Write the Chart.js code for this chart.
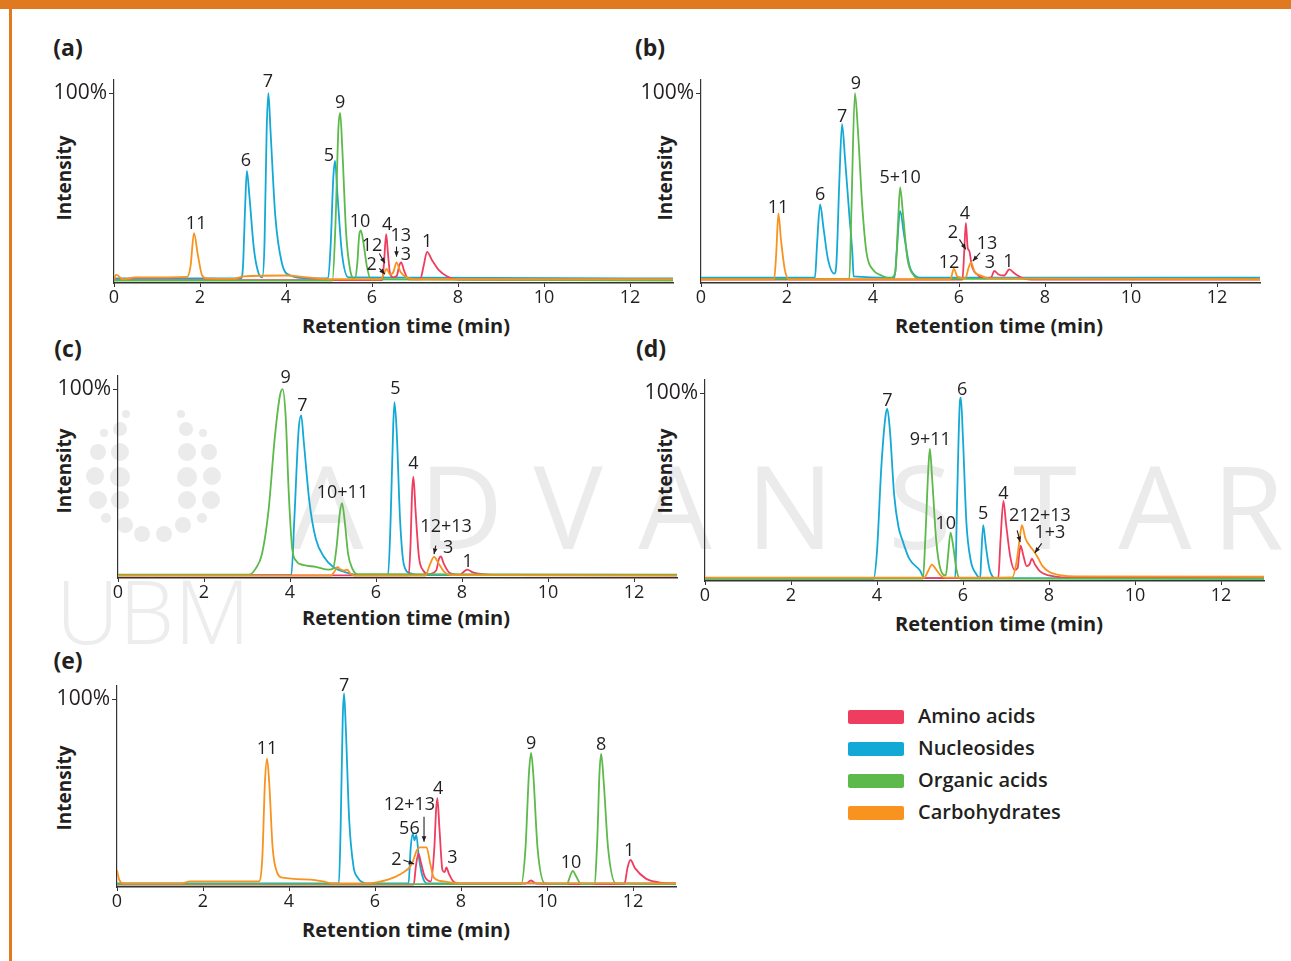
<!DOCTYPE html>
<html>
<head>
<meta charset="utf-8">
<script src="https://cdn.jsdelivr.net/npm/chart.js@4.4.1/dist/chart.umd.min.js"></script>
<style>
  body { margin: 0; background: #fff; font-family: "Open Sans", "Noto Sans", sans-serif; color: #231f20; }
  #page { position: relative; width: 1291px; height: 961px; overflow: hidden; }
  .abs { position: absolute; }
  .txt { position: absolute; transform: translate(-50%, -50%); white-space: nowrap; }
  .wm { position: absolute; transform: translate(-50%, 0); color: #ebebeb; font-weight: 400; font-size: 116px; line-height: 1; }
  .dot { position: absolute; border-radius: 50%; background: #ebebeb; }
  canvas { position: absolute; }
  .panel { font-weight: bold; font-size: 23px; }
  .xtitle { font-weight: bold; font-size: 20px; }
  .ytitle { font-weight: bold; font-size: 19px; transform: translate(-50%, -50%) rotate(-90deg); }
  .key { position: absolute; width: 56px; height: 14px; border-radius: 2px; }
  .keytxt { position: absolute; font-weight: 600; font-size: 20px; line-height: 1; }
</style>
</head>
<body>
<div id="page">
  <div class="abs" style="left:0;top:0;width:1291px;height:9px;background:#e07a20"></div>
  <div class="abs" style="left:9px;top:0;width:3px;height:961px;background:#e07a20"></div>

  <!-- watermark -->
  <div id="logo"></div>
  <div class="wm" style="left:327px;top:446px">A</div>
  <div class="wm" style="left:461px;top:446px">D</div>
  <div class="wm" style="left:568px;top:446px">V</div>
  <div class="wm" style="left:675px;top:446px">A</div>
  <div class="wm" style="left:790px;top:446px">N</div>
  <div class="wm" style="left:920px;top:446px">S</div>
  <div class="wm" style="left:1045px;top:446px">T</div>
  <div class="wm" style="left:1155px;top:446px">A</div>
  <div class="wm" style="left:1248px;top:446px">R</div>
  <div class="wm" style="left:153px;top:566px;font-size:88px;font-weight:300;color:#ededed">UBM</div>

  <div class="txt panel" style="left:68px;top:47px">(a)</div>
  <div class="txt panel" style="left:650px;top:47px">(b)</div>
  <div class="txt panel" style="left:68px;top:348px">(c)</div>
  <div class="txt panel" style="left:651px;top:348px">(d)</div>
  <div class="txt panel" style="left:68px;top:660px">(e)</div>

  <div class="txt ytitle" style="left:64px;top:178px">Intensity</div>
  <div class="txt ytitle" style="left:665px;top:178px">Intensity</div>
  <div class="txt ytitle" style="left:64px;top:471px">Intensity</div>
  <div class="txt ytitle" style="left:665px;top:471px">Intensity</div>
  <div class="txt ytitle" style="left:64px;top:788px">Intensity</div>

  <div class="txt xtitle" style="left:406px;top:325px">Retention time (min)</div>
  <div class="txt xtitle" style="left:999px;top:325px">Retention time (min)</div>
  <div class="txt xtitle" style="left:406px;top:617px">Retention time (min)</div>
  <div class="txt xtitle" style="left:999px;top:623px">Retention time (min)</div>
  <div class="txt xtitle" style="left:406px;top:929px">Retention time (min)</div>

  <div id="legend"></div>

  <canvas id="ca"></canvas>
  <canvas id="cb"></canvas>
  <canvas id="cc"></canvas>
  <canvas id="cd"></canvas>
  <canvas id="ce"></canvas>
</div>

<script>
// compound classes and colours
const classes = ['Amino acids', 'Nucleosides', 'Organic acids', 'Carbohydrates'];
const colors = ['#ee3d5e', '#13a9d6', '#5cb94a', '#f7931e'];

const xTicks = [0, 2, 4, 6, 8, 10, 12];
const yTicks = [100];

// traces as [time (min), intensity %]
// (a)
const aAmino = [[0,0.5],[6.24,0.5],[6.28,10],[6.33,25],[6.37,15],[6.42,4],[6.5,2],[6.58,3],[6.63,8],[6.68,10],[6.74,6],[6.85,1],[7.12,1],[7.2,8],[7.28,15.6],[7.4,11],[7.55,6],[7.75,2.5],[8.0,0.8],[13,0.5]];
const aNuc = [[0,1.5],[2.95,1.5],[3.0,8],[3.05,40],[3.09,58.7],[3.15,45],[3.25,18],[3.35,5],[3.45,2],[3.5,20],[3.55,80],[3.59,100],[3.64,80],[3.75,35],[3.9,10],[4.1,3],[4.5,1.5],[4.98,1.5],[5.04,20],[5.1,55],[5.14,64],[5.2,45],[5.3,15],[5.45,2],[13,1.5]];
const aOrg = [[0,0.3],[5.08,0.3],[5.15,30],[5.22,82],[5.26,89.5],[5.31,70],[5.4,25],[5.5,5],[5.6,1],[5.66,10],[5.7,24],[5.74,27],[5.79,22],[5.88,8],[5.97,1],[13,0.3]];
const aCarb = [[0,1],[0.05,3.5],[0.2,1],[0.5,2],[1.7,2.3],[1.78,8],[1.86,25.5],[1.95,14],[2.05,3],[2.15,1.5],[2.8,1.2],[3.0,2.5],[4.0,3],[4.5,2],[5.0,1],[6.2,1],[6.28,4],[6.34,6.5],[6.42,3.5],[6.5,5],[6.57,10],[6.66,5],[6.8,2],[7.0,1],[13,1]];
const aLabels = [[1.91,30.3,'11'],[3.07,63.8,'6'],[3.58,105.9,'7'],[5.0,66.5,'5'],[5.26,94.7,'9'],[5.72,31.6,'10'],[6.35,29.8,'4'],[6.0,18.8,'12'],[6.67,24,'13'],[6.79,13.8,'3'],[5.99,8.5,'2'],[7.28,20.9,'1']];
const aArrows = [[6.17,14.7,6.30,9.5],[6.17,6.8,6.30,3.7],[6.57,18.4,6.57,13.0]];

// (b)
const bAmino = [[0,0.8],[6.08,0.8],[6.12,15],[6.16,31],[6.2,18],[6.24,16],[6.3,8],[6.45,3],[6.6,1.5],[6.75,2],[6.82,5.5],[6.92,3.5],[7.05,3],[7.17,6.2],[7.3,4],[7.5,1.5],[7.7,0.8],[13,0.8]];
const bNuc = [[0,1.8],[2.65,1.8],[2.7,20],[2.77,40.8],[2.85,28],[2.95,12],[3.1,4],[3.15,10],[3.22,55],[3.28,83.5],[3.35,65],[3.45,35],[3.52,15],[3.55,2.5],[4.5,1.8],[4.55,15],[4.63,37.4],[4.72,25],[4.85,8],[5.0,2.5],[5.1,1.8],[13,1.8]];
const bOrg = [[0,1.2],[3.45,1.2],[3.5,40],[3.58,100],[3.65,80],[3.75,40],[3.85,15],[4.0,6],[4.2,3],[4.4,1.5],[4.52,5],[4.58,30],[4.63,49.8],[4.7,35],[4.8,12],[4.95,3],[5.1,1.2],[13,1.2]];
const bCarb = [[0,1],[1.7,1],[1.75,15],[1.8,36],[1.86,22],[1.95,6],[2.05,1],[5.8,1],[5.88,6.7],[5.96,2.5],[6.15,1.5],[6.22,7],[6.28,10],[6.36,5],[6.5,3],[6.7,1.5],[13,1]];
const bLabels = [[1.79,38.8,'11'],[2.77,45.7,'6'],[3.28,87.2,'7'],[3.6,104.8,'9'],[4.63,54.8,'5+10'],[6.14,35.6,'4'],[5.86,25.8,'2'],[6.65,20,'13'],[5.77,9.5,'12'],[6.72,9.5,'3'],[7.15,10.2,'1']];
const bArrows = [[6.01,22.2,6.16,16.9],[6.49,15.1,6.32,10.6]];

// (c)
const cAmino = [[0,0.4],[6.76,0.4],[6.8,15],[6.84,45],[6.87,53],[6.92,35],[7.0,10],[7.1,3],[7.2,1],[7.4,3],[7.46,9],[7.51,10.5],[7.57,7],[7.7,2],[7.95,0.8],[8.05,2.5],[8.12,3.5],[8.25,2],[8.5,1],[9,0.5],[13,0.4]];
const cNuc = [[0,0.5],[4.03,0.5],[4.1,30],[4.2,78],[4.26,86],[4.32,72],[4.45,40],[4.6,20],[4.8,10],[5.0,5],[5.3,2],[5.6,0.5],[6.28,0.5],[6.34,30],[6.4,80],[6.43,93],[6.48,78],[6.56,30],[6.65,6],[6.8,1.5],[7.0,0.5],[13,0.5]];
const cOrg = [[0,0.8],[3.05,0.8],[3.2,4],[3.35,12],[3.5,35],[3.65,75],[3.77,97],[3.83,100],[3.9,85],[3.97,45],[4.05,15],[4.15,8],[4.3,6],[4.6,5],[4.9,3.5],[5.0,4],[5.08,15],[5.16,34],[5.21,39],[5.27,30],[5.35,12],[5.45,4],[5.57,1],[13,0.8]];
const cCarb = [[0,0.3],[4.95,0.3],[5.05,3],[5.1,5],[5.18,3.5],[5.25,3],[5.33,3.5],[5.4,1.5],[5.5,0.3],[7.15,0.3],[7.25,6],[7.35,10.3],[7.45,7],[7.6,2],[7.75,0.5],[13,0.3]];
const cLabels = [[3.9,106,'9'],[4.29,91,'7'],[5.22,44.7,'10+11'],[6.45,100,'5'],[6.87,60,'4'],[7.63,26.6,'12+13'],[7.68,15.1,'3'],[8.13,7.8,'1']];
const cArrows = [[7.39,16.3,7.35,11.8]];

// (d)
const dAmino = [[0,0.5],[6.82,0.5],[6.87,20],[6.94,42],[7.0,30],[7.1,12],[7.2,5],[7.27,6],[7.31,14],[7.34,18],[7.4,13],[7.48,7],[7.55,8],[7.6,11],[7.67,8],[7.8,4],[8.0,2],[8.3,1],[13,0.5]];
const dNuc = [[0,0.2],[3.92,0.2],[4.0,15],[4.1,60],[4.2,88],[4.24,91.5],[4.3,80],[4.4,45],[4.5,28],[4.59,21],[4.75,11],[5.0,4.6],[5.1,0.5],[5.82,0.5],[5.86,40],[5.92,92],[5.95,97.5],[6.0,75],[6.08,30],[6.18,10],[6.3,3],[6.4,0.5],[6.42,10],[6.47,29],[6.53,18],[6.62,5],[6.78,0.5],[13,0.2]];
const dOrg = [[0,0.3],[5.07,0.3],[5.12,20],[5.2,62],[5.23,70],[5.28,55],[5.38,20],[5.48,5],[5.6,2],[5.65,12],[5.71,25],[5.77,18],[5.85,5],[5.93,0.3],[13,0.3]];
const dCarb = [[0,0.8],[5.1,0.8],[5.18,4],[5.28,7.8],[5.38,5],[5.5,1.5],[5.6,0.8],[7.15,1],[7.25,10],[7.32,22],[7.37,29],[7.45,22],[7.55,18],[7.65,15],[7.73,12],[7.85,7],[8.0,4],[8.3,2],[8.6,1.5],[13,1.3]];
const dLabels = [[4.24,96,'7'],[5.24,74.6,'9+11'],[5.6,29.7,'10'],[5.98,101.8,'6'],[6.47,35.1,'5'],[6.94,46,'4'],[7.79,33.8,'212+13'],[8.02,24.6,'1+3']];
const dArrows = [[7.26,26.2,7.33,19.9],[7.83,19.2,7.67,14.1]];

// (e)
const eAmino = [[0,0.3],[6.9,0.3],[6.95,10],[7.01,17],[7.07,12],[7.15,5],[7.3,2],[7.38,20],[7.42,40],[7.45,46.7],[7.5,30],[7.57,8],[7.62,7],[7.66,9.5],[7.72,6],[7.82,2],[7.95,0.8],[9.5,0.8],[9.63,2.5],[9.75,0.8],[11.8,0.5],[11.87,9],[11.94,13.5],[12.05,9],[12.3,3.5],[12.6,1.5],[12.95,1],[13,1]];
const eNuc = [[0,1],[5.16,1],[5.2,30],[5.25,90],[5.28,103],[5.32,85],[5.4,35],[5.5,10],[5.6,4],[5.8,1],[6.78,1],[6.83,20],[6.88,27.8],[6.92,24],[6.96,27],[7.02,15],[7.1,5],[7.2,1],[13,1]];
const eOrg = [[0,0.5],[9.4,0.5],[9.5,20],[9.58,60],[9.63,71],[9.68,60],[9.78,20],[9.95,1],[10.46,0.5],[10.54,5],[10.6,7.7],[10.67,5],[10.8,0.5],[11.1,0.5],[11.17,25],[11.22,60],[11.26,70.5],[11.32,55],[11.42,20],[11.6,1],[13,0.5]];
const eCarb = [[0,8],[0.05,3],[0.15,1],[1.5,1],[1.7,2],[3.3,2],[3.38,15],[3.44,55],[3.49,68],[3.54,55],[3.62,20],[3.72,7],[3.85,4],[4.5,3],[4.8,2],[5.0,1],[5.8,1],[6.3,3],[6.6,6],[6.85,11],[6.98,19],[7.05,20.3],[7.2,20.3],[7.28,12],[7.37,4],[7.6,2],[8,1],[13,1]];
const eLabels = [[3.49,73.2,'11'],[5.28,107,'7'],[6.8,43.1,'12+13'],[6.8,30.5,'56'],[7.47,51.6,'4'],[6.5,13.8,'2'],[7.8,14.4,'3'],[9.63,76,'9'],[10.56,11.8,'10'],[11.26,75.4,'8'],[11.91,18.3,'1']];
const eArrows = [[7.14,36.8,7.14,23.3],[6.66,13.5,6.91,11.3]];

// watermark logo dots [x, y, r]
const logoDots = [[126,414,4],[104,433,4],[120,429,7],[98,452,8],[120,452,9],[95,476,9],[120,477,10],[98,500,9],[120,500,9],[106,518,5],[125,525,8],[142,534,8],[164,534,8],[183,525,8],[202,518,5],[187,500,9],[211,500,9],[187,477,10],[212,476,9],[187,452,9],[209,452,8],[186,429,7],[203,433,4],[181,414,4]];
const logo = document.getElementById('logo');
logoDots.forEach(([x, y, r]) => {
  const d = document.createElement('div');
  d.className = 'dot';
  d.style.cssText = `left:${x - r}px;top:${y - r}px;width:${2 * r}px;height:${2 * r}px`;
  logo.appendChild(d);
});

// legend
const legendTop = [717, 749, 781, 813];
const legend = document.getElementById('legend');
classes.forEach((c, i) => {
  const k = document.createElement('div');
  k.className = 'key';
  k.style.cssText = `left:848px;top:${legendTop[i] - 7}px;background:${colors[i]}`;
  legend.appendChild(k);
  const t = document.createElement('div');
  t.className = 'keytxt';
  t.style.cssText = `left:918px;top:${legendTop[i] - 11}px`;
  t.textContent = c;
  legend.appendChild(t);
});

// peak numbers and arrows
const peakText = {
  id: 'peakText',
  afterDatasetsDraw(chart, args, opts) {
    const {ctx, scales: {x, y}} = chart;
    ctx.save();
    ctx.fillStyle = '#231f20';
    ctx.strokeStyle = '#231f20';
    ctx.font = '18px "Open Sans"';
    ctx.textAlign = 'center';
    ctx.textBaseline = 'middle';
    opts.labels.forEach(([t, v, s]) => ctx.fillText(s, x.getPixelForValue(t), y.getPixelForValue(v)));
    ctx.lineWidth = 1.1;
    opts.arrows.forEach(([t1, v1, t2, v2]) => {
      const x1 = x.getPixelForValue(t1), y1 = y.getPixelForValue(v1);
      const x2 = x.getPixelForValue(t2), y2 = y.getPixelForValue(v2);
      const a = Math.atan2(y2 - y1, x2 - x1);
      ctx.beginPath();
      ctx.moveTo(x1, y1);
      ctx.lineTo(x2, y2);
      ctx.stroke();
      ctx.beginPath();
      ctx.moveTo(x2, y2);
      ctx.lineTo(x2 - 6 * Math.cos(a - 0.4), y2 - 6 * Math.sin(a - 0.4));
      ctx.lineTo(x2 - 6 * Math.cos(a + 0.4), y2 - 6 * Math.sin(a + 0.4));
      ctx.closePath();
      ctx.fill();
    });
    ctx.restore();
  }
};

const toXY = arr => arr.map(([x, y]) => ({x, y}));

function makePanel(id, left, top, h, series, labels, arrows) {
  const yW = 70, xH = 30, padTop = 24, padRight = 6, w = 559;
  const cv = document.getElementById(id);
  cv.width = yW + w + padRight;
  cv.height = padTop + h + xH;
  cv.style.left = (left - yW) + 'px';
  cv.style.top = (top - padTop) + 'px';
  // draw order: carbohydrates, organic acids, amino acids, nucleosides
  const order = [3, 2, 0, 1];
  new Chart(cv, {
    type: 'line',
    data: {
      datasets: order.map(i => ({
        label: classes[i],
        data: toXY(series[i]),
        borderColor: colors[i],
        borderWidth: 1.8,
        pointRadius: 0,
        fill: false,
        cubicInterpolationMode: 'monotone'
      }))
    },
    options: {
      responsive: false,
      animation: false,
      events: [],
      layout: { padding: { top: padTop, right: padRight, left: 0, bottom: 0 } },
      plugins: {
        legend: { display: false },
        tooltip: { enabled: false },
        peakText: { labels, arrows }
      },
      scales: {
        x: {
          type: 'linear', min: 0, max: 13,
          afterBuildTicks: s => { s.ticks = xTicks.map(v => ({value: v})); },
          afterFit: s => { s.height = xH; },
          border: { display: true, color: '#333', width: 1.4 },
          grid: { display: true, drawOnChartArea: false, drawTicks: true, tickLength: 4, color: '#333' },
          ticks: { color: '#231f20', font: { size: 18, family: '"Open Sans"' }, padding: 0, maxRotation: 0 }
        },
        y: {
          type: 'linear', min: -1, max: 107,
          afterBuildTicks: s => { s.ticks = yTicks.map(v => ({value: v})); },
          afterFit: s => { s.width = yW; },
          border: { display: true, color: '#333', width: 1.2 },
          grid: { display: true, drawOnChartArea: false, drawTicks: true, tickLength: 5, color: '#333' },
          ticks: { color: '#231f20', font: { size: 21, family: '"Open Sans"' }, padding: 2, callback: v => v + '%' }
        }
      }
    },
    plugins: [peakText]
  });
}

makePanel('ca', 114, 80, 203, [aAmino, aNuc, aOrg, aCarb], aLabels, aArrows);
makePanel('cb', 701, 80, 203, [bAmino, bNuc, bOrg, bCarb], bLabels, bArrows);
makePanel('cc', 117.5, 376, 202, [cAmino, cNuc, cOrg, cCarb], cLabels, cArrows);
makePanel('cd', 705, 380, 201, [dAmino, dNuc, dOrg, dCarb], dLabels, dArrows);
makePanel('ce', 117, 686, 201, [eAmino, eNuc, eOrg, eCarb], eLabels, eArrows);
</script>
</body>
</html>
